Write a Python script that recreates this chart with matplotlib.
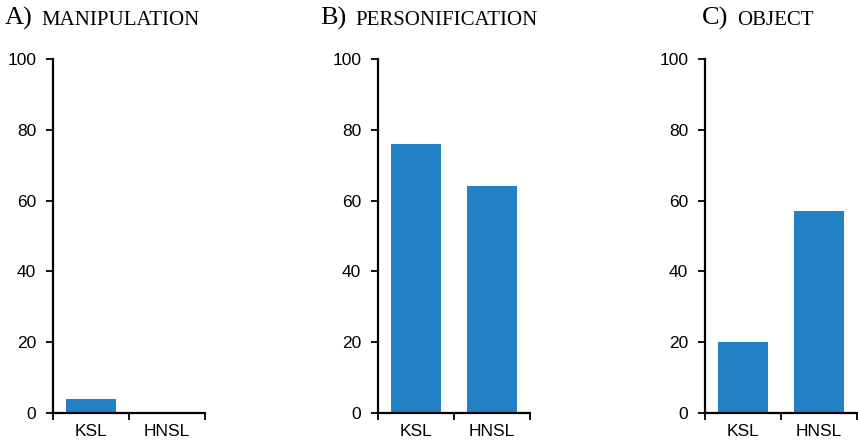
import matplotlib.pyplot as plt

# data
categories = ['KSL', 'HNSL']
panel_labels = ['A)', 'B)', 'C)']
panel_titles = ['MANIPULATION', 'PERSONIFICATION', 'OBJECT']
values = [
    [4, 0],
    [76, 64],
    [20, 57],
]
yticks = [0, 20, 40, 60, 80, 100]

bar_color = '#2181C4'

fig = plt.figure(figsize=(8.58, 4.45), dpi=100)

lefts = [53 / 858, 378 / 858, 705 / 858]
title_x = [5 / 858, 320 / 858, 702 / 858]

for i in range(3):
    ax = fig.add_axes([lefts[i], 32 / 445, 152 / 858, 354 / 445])
    pos = [0.5, 1.5]
    ax.bar(pos, values[i], width=0.67, color=bar_color)
    ax.set_xlim(0, 2)
    ax.set_ylim(0, 100)
    ax.set_yticks(yticks)
    ax.set_yticklabels([str(t) for t in yticks], fontsize=12.5, family='Liberation Sans')
    # category labels in the middle, tick marks at the edges
    ax.set_xticks([0, 1, 2])
    ax.set_xticklabels([])
    ax.set_xticks(pos, minor=True)
    ax.set_xticklabels(categories, minor=True, fontsize=12.5, family='Liberation Sans')
    ax.tick_params(axis='x', which='minor', length=0, pad=8)
    ax.tick_params(axis='both', which='major', direction='out', length=5, width=1.3)
    ax.tick_params(axis='y', pad=7)
    for s in ['top', 'right']:
        ax.spines[s].set_visible(False)
    for s in ['left', 'bottom']:
        ax.spines[s].set_linewidth(1.6)

    # title: label in normal caps, name in smaller caps
    t1 = fig.text(title_x[i], 420 / 445, panel_labels[i], fontsize=19,
                  family='Liberation Serif', va='baseline')
    ax.annotate(panel_titles[i], xy=(1, 0), xycoords=t1, xytext=(9, 0),
                textcoords='offset pixels', fontsize=15,
                family='Liberation Serif', va='bottom', annotation_clip=False)

fig.savefig('out.png', dpi=100)
